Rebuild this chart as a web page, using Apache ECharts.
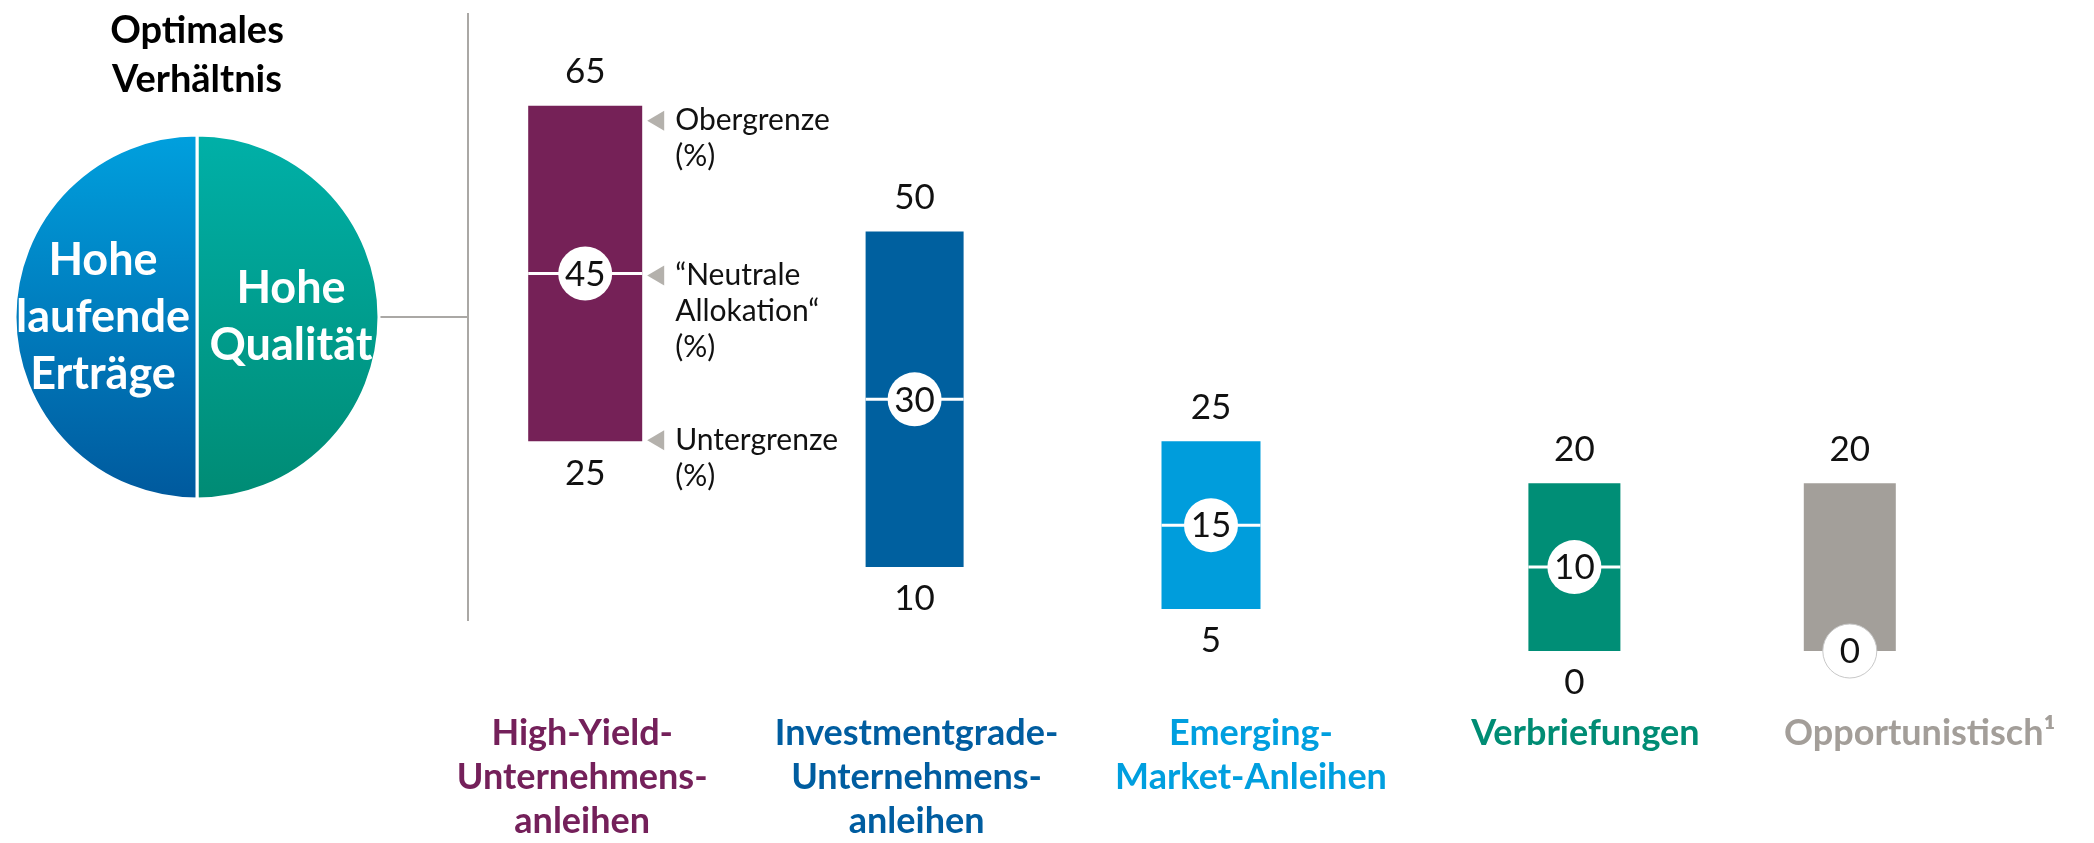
<!DOCTYPE html>
<html>
<head>
<meta charset="utf-8">
<script src="https://cdn.jsdelivr.net/npm/echarts@6/dist/echarts.min.js"></script>
<style>
  html, body { margin: 0; padding: 0; background: #fff; }
  #main { width: 2094px; height: 843px; }
</style>
</head>
<body>
<div id="main"></div>
<script>
// Sektoren (Achsenbeschriftung)
var categories = [
  "High-Yield-\nUnternehmens-\nanleihen",
  "Investmentgrade-\nUnternehmens-\nanleihen",
  "Emerging-\nMarket-Anleihen",
  "Verbriefungen",
  "Opportunistisch¹"
];
// Obergrenze / neutrale Allokation / Untergrenze in %
var upperLimit = [65, 50, 25, 20, 20];
var neutralAlloc = [45, 30, 15, 10, 0];
var lowerLimit = [25, 10, 5, 0, 0];

// Optimales Verhältnis (Kreis)
var ratioNames = ["Hohe\nQualität", "Hohe\nlaufende\nErträge"];
var ratioValues = [50, 50];

// Erläuterungen am ersten Balken
var markerLabels = ["Obergrenze\n(%)", "“Neutrale\nAllokation“\n(%)", "Untergrenze\n(%)"];

var barColors = ["#752157", "#00609f", "#009ddc", "#008e76", "#a39f9a"];
var textColors = ["#74205a", "#005da0", "#009fdf", "#008c74", "#a39e99"];
// Balken sitzen im Original nicht genau über der Beschriftung
var barShift = [3, -2, -40, -11, -70];
var barWidth = [114, 98, 99, 92, 92];

var font = "Lato, 'Noto Sans', sans-serif";

var myChart = echarts.init(document.getElementById("main"));

function renderBox(params, api) {
  var i = params.dataIndex;
  var hi = api.value(1), mid = api.value(2), lo = api.value(3);
  var pTop = api.coord([api.value(0), hi]);
  var pMid = api.coord([api.value(0), mid]);
  var pBot = api.coord([api.value(0), lo]);
  var cx = pTop[0] + barShift[i];
  var w = barWidth[i];
  var x0 = cx - w / 2;

  var children = [
    {
      type: "rect",
      shape: { x: x0, y: pTop[1], width: w, height: pBot[1] - pTop[1] },
      style: { fill: barColors[i] }
    }
  ];
  if (mid > lo) {
    children.push({
      type: "line",
      shape: { x1: x0, y1: pMid[1], x2: x0 + w, y2: pMid[1] },
      style: { stroke: "#fff", lineWidth: 3 }
    });
  }
  children.push({
    type: "circle",
    shape: { cx: cx, cy: pMid[1], r: 27 },
    style: { fill: "#fff", stroke: mid === lo ? "#c8c8c8" : null, lineWidth: 1 }
  });
  children.push({
    type: "text", x: cx, y: pMid[1] + 1,
    style: { text: String(mid), fill: "#111", fontSize: 35, fontFamily: font, align: "center", verticalAlign: "middle" }
  });
  children.push({
    type: "text", x: cx, y: pTop[1] - 34,
    style: { text: String(hi), fill: "#111", fontSize: 35, fontFamily: font, align: "center", verticalAlign: "middle" }
  });
  if (lo !== mid) {
    children.push({
      type: "text", x: cx, y: pBot[1] + 32,
      style: { text: String(lo), fill: "#111", fontSize: 35, fontFamily: font, align: "center", verticalAlign: "middle" }
    });
  }

  // Pfeile + Texte nur am ersten Balken
  if (i === 0) {
    var ys = [pTop[1] + 15, pMid[1] + 2, pBot[1] - 1];
    var right = x0 + w;
    ys.forEach(function (y, k) {
      children.push({
        type: "polygon",
        shape: { points: [[right + 5, y], [right + 22, y - 10], [right + 22, y + 10]] },
        style: { fill: "#b4b1ac" }
      });
      children.push({
        type: "text", x: right + 33, y: y - 18,
        style: {
          text: markerLabels[k], fill: "#111", fontSize: 30, fontFamily: font,
          lineHeight: 36, align: "left", verticalAlign: "top"
        }
      });
    });
  }
  return { type: "group", children: children };
}

var option = {
  animation: false,
  backgroundColor: "#fff",
  grid: { left: 415, right: 7, top: 63.8, bottom: 188.1 },
  xAxis: {
    type: "category",
    data: categories,
    axisLine: { show: false },
    axisTick: { show: false },
    axisLabel: {
      interval: 0,
      margin: 60,
      fontSize: 36,
      fontWeight: "bold",
      fontFamily: font,
      lineHeight: 44,
      color: function (value, index) {
        return textColors[index];
      }
    }
  },
  yAxis: {
    type: "value",
    min: 0,
    max: 70,
    show: false,
    splitLine: { show: false }
  },
  series: [
    {
      type: "custom",
      renderItem: renderBox,
      encode: { x: 0, y: [1, 2, 3] },
      data: categories.map(function (c, i) {
        return [i, upperLimit[i], neutralAlloc[i], lowerLimit[i]];
      })
    },
    {
      type: "pie",
      center: [197, 317],
      radius: 182,
      startAngle: 90,
      silent: true,
      itemStyle: { borderColor: "#fff", borderWidth: 3 },
      label: {
        position: "inside",
        color: "#fff",
        fontSize: 45,
        fontWeight: "bold",
        fontFamily: font,
        lineHeight: 57,
        formatter: "{b}"
      },
      labelLine: { show: false },
      data: [
        {
          name: ratioNames[0], value: ratioValues[0],
          itemStyle: {
            color: new echarts.graphic.LinearGradient(0, 0, 0, 1, [
              { offset: 0, color: "#00b0a8" },
              { offset: 1, color: "#008b74" }
            ])
          }
        },
        {
          name: ratioNames[1], value: ratioValues[1],
          itemStyle: {
            color: new echarts.graphic.LinearGradient(0, 0, 0, 1, [
              { offset: 0, color: "#00a0de" },
              { offset: 1, color: "#00599d" }
            ])
          }
        }
      ]
    }
  ],
  graphic: [
    {
      type: "text", x: 197, y: 6,
      style: {
        text: "Optimales\nVerhältnis", fill: "#000", fontSize: 38, fontWeight: "bold",
        fontFamily: font, lineHeight: 49, align: "center", verticalAlign: "top"
      }
    },
    {
      type: "line",
      shape: { x1: 378, y1: 317, x2: 468, y2: 317 },
      style: { stroke: "#aaa8a5", lineWidth: 2 }
    },
    {
      type: "line",
      shape: { x1: 468, y1: 13, x2: 468, y2: 621 },
      style: { stroke: "#aaa8a5", lineWidth: 2 }
    }
  ]
};

myChart.setOption(option);
</script>
</body>
</html>
